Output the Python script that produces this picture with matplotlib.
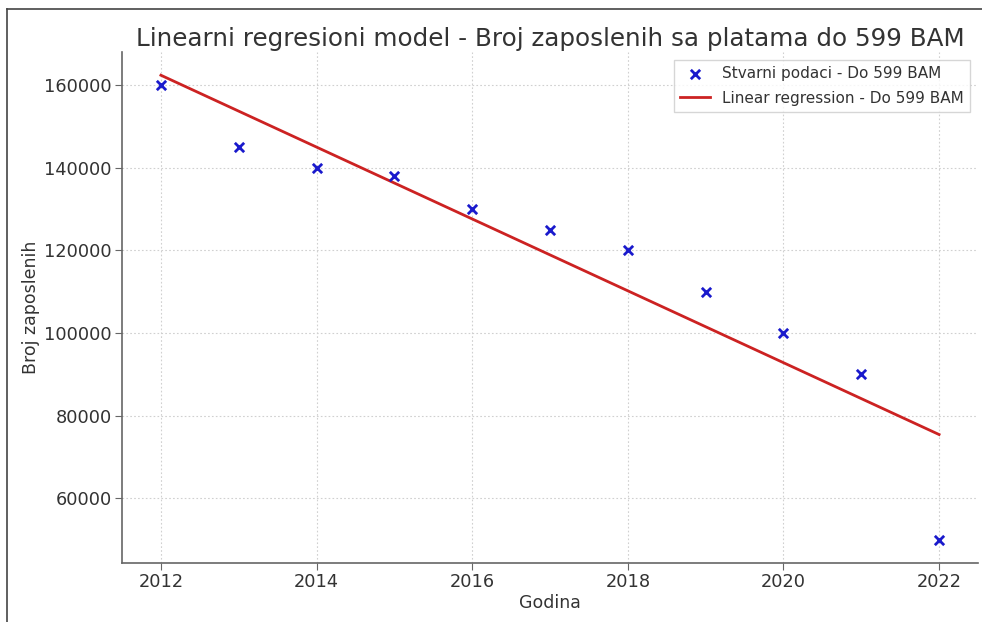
import numpy as np
import matplotlib
matplotlib.use("Agg")
import matplotlib.pyplot as plt
from matplotlib.lines import Line2D

years = [2012, 2013, 2014, 2015, 2016, 2017, 2018, 2019, 2020, 2021, 2022]
employees = [160000, 145000, 140000, 138000, 130000, 125000, 120000, 110000, 100000, 90000, 50000]
title = "Linearni regresioni model - Broj zaposlenih sa platama do 599 BAM"
scatter_label = "Stvarni podaci - Do 599 BAM"
line_label = "Linear regression - Do 599 BAM"

x = np.array(years, dtype=float)
y = np.array(employees, dtype=float)
slope, intercept = np.polyfit(x, y, 1)
fit = slope * x + intercept

text_color = "#333333"
fig = plt.figure(figsize=(9.82, 6.22), dpi=100)
ax = fig.add_axes([122/982, 1 - 563/622, (978-122)/982, (563-52)/622])

ax.scatter(x, y, marker="x", color="#1a1acc", s=45, linewidths=2, label=scatter_label, zorder=3)
ax.plot(x, fit, color="#cc2222", linewidth=2, label=line_label, zorder=2)

ax.set_xticks([2012, 2014, 2016, 2018, 2020, 2022])
ax.set_yticks([60000, 80000, 100000, 120000, 140000, 160000])
ax.grid(True, linestyle=(0, (1.5, 2)), color="#d0d0d0", linewidth=0.8)
for s in ["top", "right"]:
    ax.spines[s].set_visible(False)
for s in ["left", "bottom"]:
    ax.spines[s].set_color("#666666")
    ax.spines[s].set_linewidth(1.2)
ax.tick_params(colors="#666666", labelcolor=text_color, labelsize=12.8, length=5, pad=2.5)

ax.set_title(title, fontsize=17.7, color=text_color, pad=4)
ax.set_xlabel("Godina", fontsize=12.5, color=text_color, labelpad=2)
ax.set_ylabel("Broj zaposlenih", fontsize=12.5, color=text_color, labelpad=3)

leg = ax.legend(loc="upper right", fontsize=11, frameon=True, fancybox=False,
                edgecolor="#cccccc", labelcolor=text_color, borderaxespad=0.5,
                labelspacing=0.65)

fig.add_artist(Line2D([7/982, 7/982], [0, 1 - 9/622], color="#444444", linewidth=1.2))
fig.add_artist(Line2D([7/982, 1], [1 - 9/622, 1 - 9/622], color="#444444", linewidth=1.2))

fig.savefig("out.png", dpi=100)
